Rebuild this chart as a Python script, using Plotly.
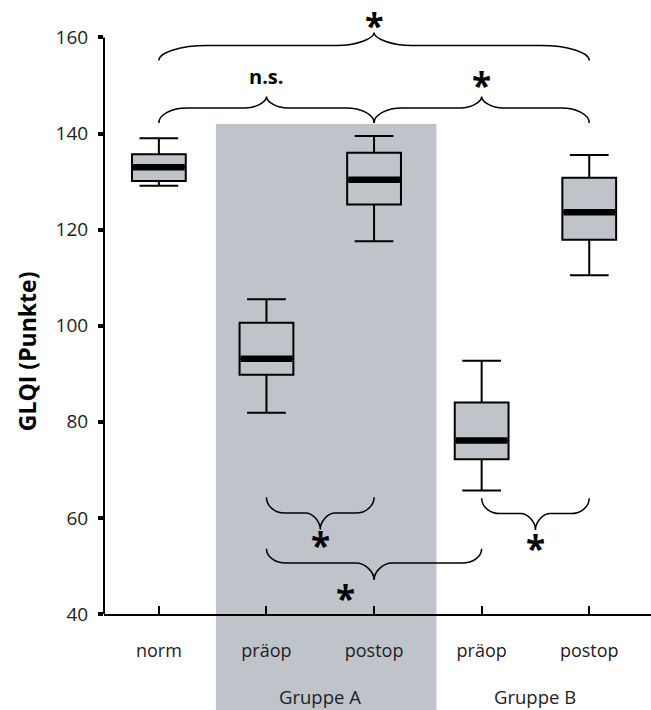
import plotly.graph_objects as go

# ---------------- data ----------------
categories = ["norm", "präop", "postop", "präop", "postop"]
groups = ["Gruppe A", "Gruppe B"]
upper_whisker = [139.0, 105.5, 139.5, 92.7, 135.5]
q3_values = [135.7, 100.6, 136.0, 84.0, 130.8]
median_values = [133.0, 93.1, 130.4, 76.1, 123.6]
q1_values = [130.1, 89.8, 125.2, 72.2, 117.9]
lower_whisker = [129.1, 81.9, 117.6, 65.7, 110.5]
y_ticks = [40, 60, 80, 100, 120, 140, 160]
y_title = "GLQI (Punkte)"

# significance brackets: (from category, to category, label)
comparisons = [
    (0, 4, "*"),
    (0, 2, "n.s."),
    (2, 4, "*"),
    (1, 2, "*"),
    (1, 3, "*"),
    (3, 4, "*"),
]

# ---------------- style ----------------
GRAY = "#bfc3ca"
FONT = "Open Sans"
Y_MIN, Y_MAX = 40, 164.87
positions = list(range(len(categories)))
BOX_W = 0.5

# brace geometry per comparison: (end y, bar y, tip y, end curve w, tip curve w)
brace_geom = [
    (155.2, 158.3, 161.0, 0.45, 0.35),
    (142.2, 145.3, 147.7, 0.26, 0.20),
    (142.2, 145.3, 147.7, 0.26, 0.20),
    (64.3, 61.0, 57.6, 0.17, 0.14),
    (53.6, 50.6, 47.1, 0.18, 0.17),
    (64.1, 60.9, 57.5, 0.17, 0.14),
]
# label positions (x offset from brace middle, y of label centre; None = top edge)
label_pos = [
    (0.0, None),
    (0.0, 151.8),
    (0.0, 150.9),
    (0.0, 55.1),
    (-0.27, 44.0),
    (0.0, 54.4),
]


def brace_path(x0, x1, ye, yh, yt, w1, w2):
    xm = (x0 + x1) / 2
    k = 0.55
    return (
        f"M {x0},{ye} "
        f"C {x0},{ye + k * (yh - ye)} {x0 + (1 - k) * w1},{yh} {x0 + w1},{yh} "
        f"L {xm - w2},{yh} "
        f"C {xm - (1 - k) * w2},{yh} {xm},{yh + k * (yt - yh)} {xm},{yt} "
        f"C {xm},{yh + k * (yt - yh)} {xm + (1 - k) * w2},{yh} {xm + w2},{yh} "
        f"L {x1 - w1},{yh} "
        f"C {x1 - (1 - k) * w1},{yh} {x1},{ye + k * (yh - ye)} {x1},{ye}"
    )


TOP_M, BOT_M = 14, 96
PLOT_H = 710 - TOP_M - BOT_M

fig = go.Figure()

fig.add_trace(go.Box(
    x=positions,
    q1=q1_values, median=median_values, q3=q3_values,
    lowerfence=lower_whisker, upperfence=upper_whisker,
    width=BOX_W, whiskerwidth=0.72,
    fillcolor=GRAY, line=dict(color="black", width=2),
    boxpoints=False, hoverinfo="skip", showlegend=False,
))

# thick median bars
mx, my = [], []
for p, m in zip(positions, median_values):
    mx += [p - BOX_W / 2 + 0.01, p + BOX_W / 2 - 0.01, None]
    my += [m, m, None]
fig.add_trace(go.Scatter(x=mx, y=my, mode="lines",
                         line=dict(color="black", width=6.5),
                         hoverinfo="skip", showlegend=False))

shapes = []
# group A shading (behind everything, extends below the axis)
shapes.append(dict(type="rect", xref="x", yref="paper",
                   x0=0.53, x1=2.58, y0=-0.2, y1=(142.0 - Y_MIN) / (Y_MAX - Y_MIN),
                   fillcolor=GRAY, line=dict(width=0), layer="below"))
# y axis line from 40 to 160
shapes.append(dict(type="line", xref="paper", yref="y", x0=0, x1=0,
                   y0=y_ticks[0], y1=y_ticks[-1],
                   line=dict(color="black", width=2)))

annotations = []
for (i, j, lab), (ye, yh, yt, w1, w2), (dx, ly) in zip(comparisons, brace_geom, label_pos):
    shapes.append(dict(type="path", xref="x", yref="y",
                       path=brace_path(i, j, ye, yh, yt, w1, w2),
                       line=dict(color="black", width=1.5)))
    xm = (i + j) / 2 + dx
    if lab == "*":
        if ly is None:
            annotations.append(dict(x=xm, y=1 + TOP_M / PLOT_H, xref="x", yref="paper",
                                    text="<b>*</b>", showarrow=False,
                                    yanchor="top", yshift=-0.5,
                                    font=dict(family=FONT, size=34, color="black")))
        else:
            annotations.append(dict(x=xm, y=ly, xref="x", yref="y", text="<b>*</b>",
                                    showarrow=False, yanchor="middle", yshift=-3,
                                    font=dict(family=FONT, size=35, color="black")))
    else:
        annotations.append(dict(x=xm, y=ly, xref="x", yref="y", text="<b>" + lab + "</b>",
                                showarrow=False, yanchor="middle",
                                font=dict(family=FONT, size=20, color="black")))

for g, gx in zip(groups, [1.5, 3.5]):
    annotations.append(dict(x=gx, y=-0.138, xref="x", yref="paper", text=g,
                            showarrow=False, yanchor="middle",
                            font=dict(family=FONT, size=18.5, color="#222")))

# y axis title (placed lower than the plot-area centre, as in the original)
annotations.append(dict(x=-0.1408, y=0.438, xref="paper", yref="paper",
                        text="<b>" + y_title + "</b>", textangle=-90,
                        showarrow=False, xanchor="center", yanchor="middle",
                        font=dict(family=FONT, size=23, color="black")))

fig.update_layout(
    width=651, height=710,
    margin=dict(l=104, r=0, t=TOP_M, b=BOT_M),
    paper_bgcolor="white", plot_bgcolor="rgba(0,0,0,0)",
    shapes=shapes, annotations=annotations,
    showlegend=False,
    xaxis=dict(range=[-0.51, 4.574], tickvals=positions, ticktext=categories,
               ticks="inside", ticklen=8, tickwidth=1.5, tickcolor="black",
               showline=True, linecolor="black", linewidth=1.5,
               showgrid=False, zeroline=False,
               tickfont=dict(family=FONT, size=18, color="#222"),
               ticklabelstandoff=20),
    yaxis=dict(range=[Y_MIN, Y_MAX], tickvals=y_ticks,
               ticks="outside", ticklen=5, tickwidth=4, tickcolor="black",
               showline=False, showgrid=False, zeroline=False,
               tickfont=dict(family=FONT, size=19, color="#222"),
               ticklabelstandoff=6),
)

fig.write_html("out.html", config={"displayModeBar": False},
               post_script="document.body.style.margin='0px';")
